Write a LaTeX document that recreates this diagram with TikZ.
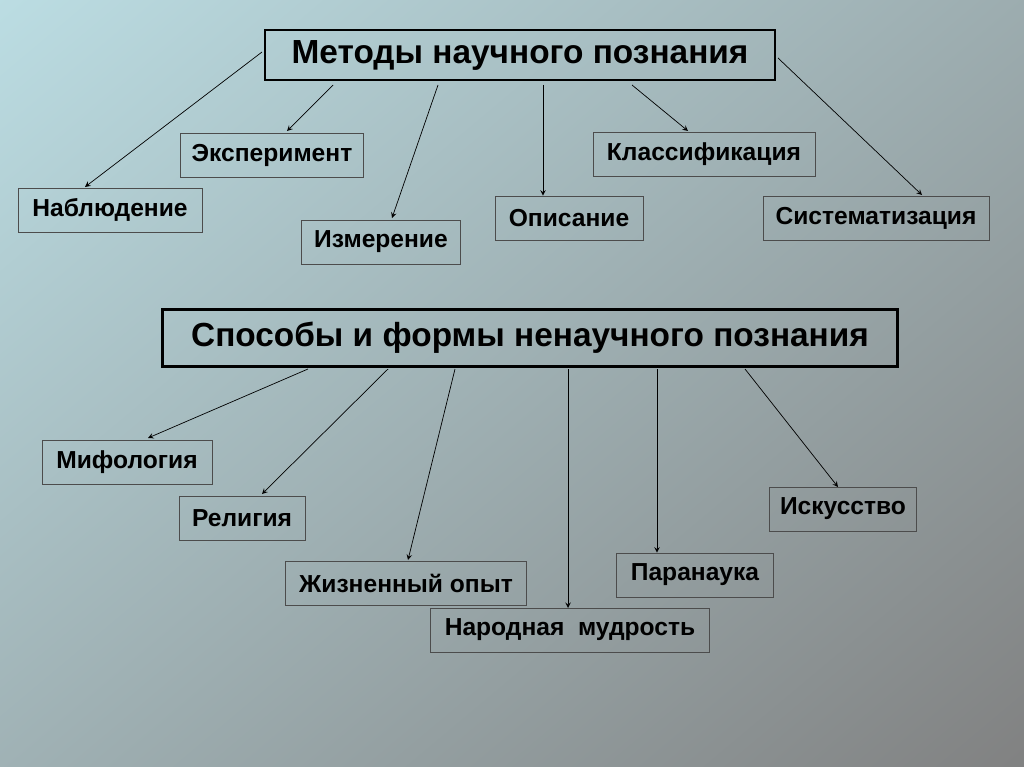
\documentclass[tikz,border=0pt]{standalone}
\usepackage{fontspec}
\setmainfont{Liberation Sans}
\definecolor{bgtop}{RGB}{188,222,228}
\definecolor{bgbot}{RGB}{128,128,128}
\begin{document}
\begin{tikzpicture}[x=0.02cm, y=-0.02cm, >=stealth]
    \tikzstyle{head} = [rectangle, draw=black, line width=1.4pt, font=\fontsize{19}{21}\selectfont\bfseries, inner xsep=6pt]
    \tikzstyle{box} = [rectangle, draw=black!70, font=\fontsize{14}{16}\selectfont\bfseries, inner xsep=6pt, minimum height=0.88cm]
    \tikzstyle{link} = [->, thin]
    \useasboundingbox (0,0) rectangle (1024,767);
    \begin{scope}
    \clip (0,0) rectangle (1024,767);
    \shade[top color=bgtop, bottom color=bgbot, shading angle=40] (-200,-200) rectangle (1224,967);
    \end{scope}
    % scientific methods
    \node (science) [head, minimum width=10.2cm, minimum height=1cm] at (520,55) {Методы научного познания};
    \node (observ) [box, minimum width=3.68cm] at (110,210) {Наблюдение};
    \node (experim) [box, minimum width=3.66cm] at (272,155) {Эксперимент};
    \node (measure) [box, minimum width=3.18cm] at (381,242) {Измерение};
    \node (descr) [box, minimum width=2.96cm] at (569,218) {Описание};
    \node (classif) [box, minimum width=4.44cm] at (704,154) {Классификация};
    \node (system) [box, minimum width=4.52cm] at (876,218) {Систематизация};
    % non-scientific ways
    \node (nonsci) [head, minimum width=14.7cm, minimum height=1.14cm] at (530,338) {Способы и формы ненаучного познания};
    \node (myth) [box, minimum width=3.4cm] at (127,462) {Мифология};
    \node (relig) [box, minimum width=2.52cm] at (242,518) {Религия};
    \node (life) [box, minimum width=4.82cm] at (406,583) {Жизненный опыт};
    \node (folk) [box, minimum width=5.58cm] at (570,630) {Народная\ \ мудрость};
    \node (para) [box, minimum width=3.14cm] at (695,575) {Паранаука};
    \node (art) [box, minimum width=2.94cm] at (843,509) {Искусство};

    \coordinate (s1) at (262,52);  \coordinate (s2) at (333,85);
    \coordinate (s3) at (438,85);  \coordinate (s4) at (543,85);
    \coordinate (s5) at (632,85);  \coordinate (s6) at (778,58);
    \coordinate (n1) at (308,369); \coordinate (n2) at (388,369);
    \coordinate (n3) at (455,369); \coordinate (n4) at (568,369);
    \coordinate (n5) at (657,369); \coordinate (n6) at (745,369);

    \draw [link] (s1) -- (85,187);
    \draw [link] (s2) -- (287,131);
    \draw [link] (s3) -- (392,218);
    \draw [link] (s4) -- (descr.north -| s4);
    \draw [link] (s5) -- (688,131);
    \draw [link] (s6) -- (922,195);
    \draw [link] (n1) -- (148,438);
    \draw [link] (n2) -- (262,494);
    \draw [link] (n3) -- (408,560);
    \draw [link] (n4) -- (568,608);
    \draw [link] (n5) -- (para.north -| n5);
    \draw [link] (n6) -- (838,487);
\end{tikzpicture}
\end{document}
